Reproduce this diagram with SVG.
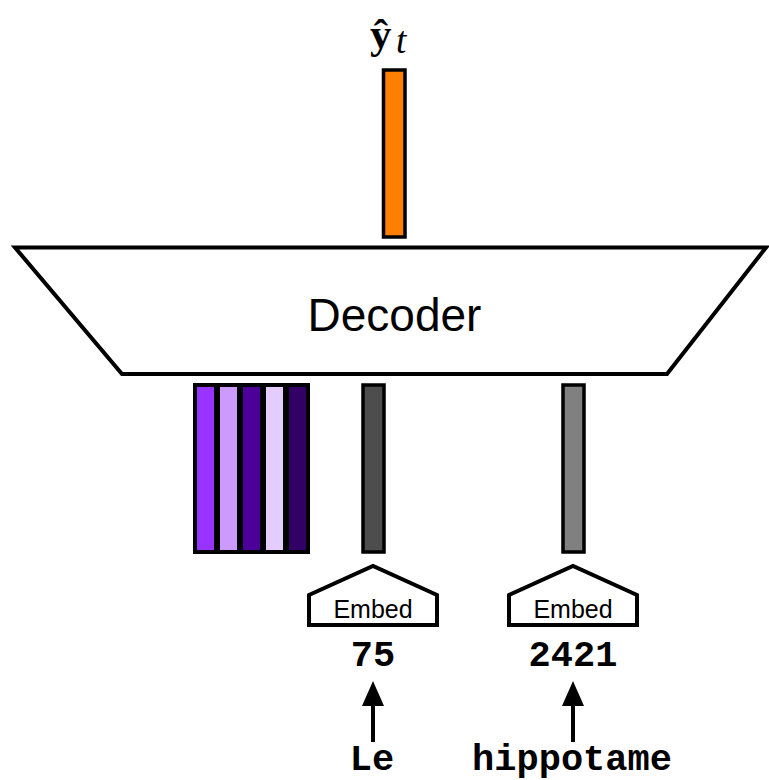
<svg xmlns="http://www.w3.org/2000/svg" width="769" height="780" viewBox="0 0 769 780">
  <style>
    .edge { stroke: #000; stroke-width: 4; stroke-linejoin: miter; }
    .bar { stroke: #000; stroke-width: 3.5; }
    .stripe { stroke: #000; stroke-width: 4; }
    .sans { font-family: "Liberation Sans", Arial, sans-serif; fill: #000; text-anchor: middle; }
    .mono { font-family: "Liberation Mono", "Courier New", monospace; font-weight: bold; fill: #000; text-anchor: middle; font-size: 37px; }
    .math { font-family: "Liberation Serif", "Times New Roman", serif; fill: #000; }
    .hat { font-size: 43px; font-weight: bold; }
    .sub { font-size: 37px; font-style: italic; }
  </style>

  <rect width="769" height="780" fill="#fff"/>

  <!-- predicted output vector -->
  <g id="output">
    <text class="math" x="370" y="48"><tspan class="hat">ŷ</tspan><tspan class="sub" x="396" y="53">t</tspan></text>
    <rect class="bar" x="383.5" y="70" width="21.5" height="167" fill="#FF8000"/>
  </g>

  <!-- decoder block -->
  <g id="decoder">
    <polygon class="edge" points="15,247.5 766,247.5 667,374 122,374" fill="#fff"/>
    <text class="sans" x="394.5" y="331" font-size="46">Decoder</text>
  </g>

  <!-- encoder context vectors -->
  <g id="context">
    <rect class="stripe" x="195" y="385" width="21" height="167" fill="#9933FF"/>
    <rect class="stripe" x="218" y="385" width="21" height="167" fill="#CC99FF"/>
    <rect class="stripe" x="241" y="385" width="21" height="167" fill="#4C0099"/>
    <rect class="stripe" x="264" y="385" width="21" height="167" fill="#E5CCFF"/>
    <rect class="stripe" x="287" y="385" width="21" height="167" fill="#330066"/>
  </g>

  <!-- token "Le" -->
  <g id="token-le">
    <rect class="bar" x="363" y="385" width="21" height="167" fill="#4D4D4D"/>
    <polygon class="edge" points="309,625 309,595 373,566 437,595 437,625" fill="#fff"/>
    <text class="sans" x="373" y="618" font-size="25">Embed</text>
    <text class="mono" x="373" y="666">75</text>
    <text class="mono" x="372" y="770">Le</text>
  </g>

  <!-- token "hippotame" -->
  <g id="token-hippotame">
    <rect class="bar" x="563" y="385" width="21" height="167" fill="#808080"/>
    <polygon class="edge" points="509,625 509,595 573,566 637,595 637,625" fill="#fff"/>
    <text class="sans" x="573" y="618" font-size="25">Embed</text>
    <text class="mono" x="573" y="666">2421</text>
    <text class="mono" x="572" y="770">hippotame</text>
  </g>

  <!-- word to id arrows -->
  <g id="connectors">
    <line x1="373" y1="742" x2="373" y2="704" stroke="#000" stroke-width="4"/>
    <polygon points="373,681 362,706 384,706" fill="#000"/>
    <line x1="573" y1="742" x2="573" y2="704" stroke="#000" stroke-width="4"/>
    <polygon points="573,681 562,706 584,706" fill="#000"/>
  </g>
</svg>
